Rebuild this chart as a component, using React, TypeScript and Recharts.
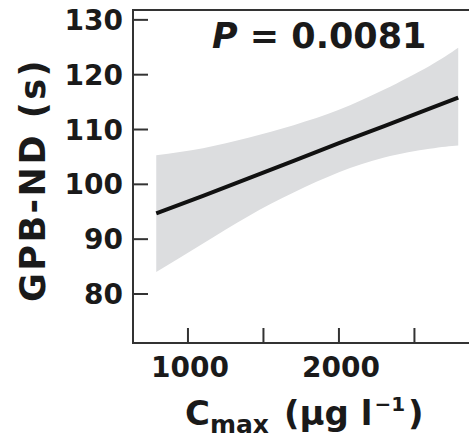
import React from 'react';
import { ComposedChart, Area, Line, XAxis, YAxis, ReferenceArea, Label } from 'recharts';

// Fitted regression of GPB-ND on Cmax, with its confidence band
const cmax = [790, 1100, 1400, 1700, 2000, 2300, 2600, 2790];
const fitted = [94.7, 97.9, 101.1, 104.3, 107.5, 110.6, 113.8, 115.8];
const lower = [84.0, 89.2, 94.2, 98.5, 102.2, 104.9, 106.5, 107.1];
const upper = [105.3, 106.6, 108.5, 110.8, 113.6, 117.3, 121.6, 124.9];

const xTicks = [1000, 1500, 2000, 2500];
const xTickLabels = ['1000', '', '2000', ''];
const yTicks = [80, 90, 100, 110, 120, 130];

const X_DOMAIN: [number, number] = [636, 2868];
const Y_DOMAIN: [number, number] = [71.06, 131.8];

const data = cmax.map((c, i) => ({
  c,
  fit: fitted[i],
  band: [lower[i], upper[i]],
}));

const FONT = '"DejaVu Sans", sans-serif';
const AXIS = '#333';
const INK = '#1a1a1a';

const YTick = ({ x, y, payload }: any) => (
  <g>
    <line x1={x} x2={x + 15} y1={y} y2={y} stroke={AXIS} strokeWidth={2} />
    <text x={x - 10} y={y} dy={10} textAnchor="end" fontFamily={FONT} fontWeight="bold" fontSize={28} fill={INK}>
      {payload.value}
    </text>
  </g>
);

const XTick = ({ x, y, index }: any) => (
  <g>
    <line x1={x} x2={x} y1={y} y2={y - 15} stroke={AXIS} strokeWidth={2} />
    <text x={x + 2} y={y + 34} textAnchor="middle" fontFamily={FONT} fontWeight="bold" fontSize={28} fill={INK}>
      {xTickLabels[index] ?? ''}
    </text>
  </g>
);

const XTitle = () => (
  <text x={185} y={425} fontFamily={FONT} fontWeight="bold" fontSize={34} fill={INK}>
    <tspan>C</tspan>
    <tspan fontSize={25} dy={8}>max</tspan>
    <tspan dy={-8} dx={15}>(μg l</tspan>
    <tspan fontSize={20} dy={-14} dx={2}>−1</tspan>
    <tspan dy={14} dx={3}>)</tspan>
  </text>
);

const YTitle = () => (
  <text
    x={45}
    y={180}
    transform="rotate(-90, 45, 180)"
    textAnchor="middle"
    fontFamily={FONT}
    fontWeight="bold"
    fontSize={35}
    letterSpacing={2.5}
    fill={INK}
  >
    GPB-ND (s)
  </text>
);

const PValue = (props: any) => {
  const vb = props.viewBox || { x: 133, y: 10 };
  return (
    <text x={vb.x + 79} y={vb.y + 38} fontFamily={FONT} fontWeight="bold" fontSize={35} fill={INK}>
      <tspan fontStyle="italic">P</tspan>
      <tspan> = 0.0081</tspan>
    </text>
  );
};

export default function App() {
  return (
    <div style={{ position: 'absolute', left: 0, top: 0, width: 469, height: 440, overflow: 'hidden', background: '#fff' }}>
      <ComposedChart width={472} height={440} data={data} margin={{ top: 10, right: 2, bottom: 0, left: 0 }}>
        <XAxis
          dataKey="c"
          type="number"
          domain={X_DOMAIN}
          allowDataOverflow
          ticks={xTicks}
          interval={0}
          tick={<XTick />}
          tickLine={false}
          tickSize={0}
          tickMargin={0}
          height={97}
          axisLine={{ stroke: AXIS, strokeWidth: 2 }}
          label={<XTitle />}
        />
        <YAxis
          type="number"
          domain={Y_DOMAIN}
          allowDataOverflow
          ticks={yTicks}
          interval={0}
          tick={<YTick />}
          tickLine={false}
          tickSize={0}
          tickMargin={0}
          width={133}
          axisLine={{ stroke: AXIS, strokeWidth: 2 }}
          label={<YTitle />}
        />
        <Area
          dataKey="band"
          type="natural"
          stroke="none"
          fill="#dcdddf"
          fillOpacity={1}
          isAnimationActive={false}
        />
        <Line
          dataKey="fit"
          type="linear"
          stroke="#111"
          strokeWidth={4}
          dot={false}
          isAnimationActive={false}
        />
        <ReferenceArea
          x1={X_DOMAIN[0]}
          x2={X_DOMAIN[1]}
          y1={Y_DOMAIN[0]}
          y2={Y_DOMAIN[1]}
          fill="none"
          stroke={AXIS}
          strokeWidth={2}
          ifOverflow="visible"
        >
          <Label content={<PValue />} />
        </ReferenceArea>
      </ComposedChart>
    </div>
  );
}
